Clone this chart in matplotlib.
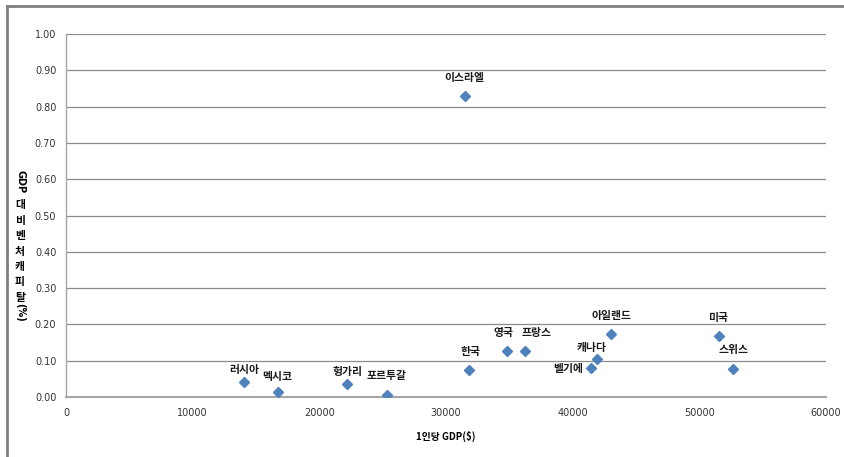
import matplotlib
matplotlib.use("Agg")
import matplotlib.pyplot as plt
from matplotlib.lines import Line2D

plt.rcParams['font.family'] = ['Noto Sans CJK KR', 'DejaVu Sans']

# Per-capita GDP (USD) vs. venture capital investment as share of GDP (%)
countries = ['러시아', '멕시코', '헝가리', '포르투갈', '이스라엘', '한국', '영국',
             '프랑스', '벨기에', '캐나다', '아일랜드', '미국', '스위스']
gdp_per_capita = [14030, 16760, 22160, 25320, 31500, 31820, 34790,
                  36240, 41450, 41920, 43030, 51550, 52620]
vc_share = [0.042, 0.015, 0.036, 0.006, 0.83, 0.074, 0.127,
            0.127, 0.080, 0.105, 0.174, 0.168, 0.077]
x_ticks = [0, 10000, 20000, 30000, 40000, 50000, 60000]
y_ticks = [0.0, 0.1, 0.2, 0.3, 0.4, 0.5, 0.6, 0.7, 0.8, 0.9, 1.0]

# data label placement relative to each marker, in pixels (dx right, dy up)
label_offsets = {
    '러시아': (1, 12), '멕시코': (-1, 15), '헝가리': (1, 12), '포르투갈': (0, 19),
    '이스라엘': (-1, 18), '한국': (1, 18), '영국': (-3, 18), '프랑스': (12, 18),
    '벨기에': (-8, -1), '캐나다': (-5, 11), '아일랜드': (0, 18), '미국': (-1, 18),
    '스위스': (1, 19),
}

W, H = 844, 457
fig = plt.figure(figsize=(W / 100, H / 100), dpi=100)
fig.patch.set_facecolor('white')

# chart frame (top and left edges)
fig.add_artist(Line2D([7 / W, 7 / W], [0, 1 - 6 / H], color='#7f7f7f', lw=2.0,
                      transform=fig.transFigure))
fig.add_artist(Line2D([7 / W, 1], [1 - 6 / H, 1 - 6 / H], color='#7f7f7f', lw=2.0,
                      transform=fig.transFigure))

left, right, top, bottom = 66, 826, 34, 397
ax = fig.add_axes([left / W, 1 - bottom / H, (right - left) / W, (bottom - top) / H])
ax.set_xlim(0, 60000)
ax.set_ylim(0, 1.0)
ax.set_xticks(x_ticks)
ax.set_yticks(y_ticks)
ax.set_xticklabels([str(v) for v in x_ticks], fontsize=7, color='#333333',
                   family=['DejaVu Sans'])
ax.set_yticklabels([f'{v:.2f}' for v in y_ticks], fontsize=7, color='#333333',
                   family=['DejaVu Sans'])
ax.tick_params(axis='both', length=0)
ax.tick_params(axis='x', pad=8)
ax.tick_params(axis='y', pad=7)

ax.grid(axis='y', color='#8c8c8c', lw=0.9)
ax.set_axisbelow(True)
for side in ['top', 'right']:
    ax.spines[side].set_visible(False)
ax.spines['left'].set_color('#a6a6a6')
ax.spines['bottom'].set_color('#a6a6a6')
ax.spines['left'].set_linewidth(1.0)
ax.spines['bottom'].set_linewidth(1.5)

ax.plot(gdp_per_capita, vc_share, linestyle='none', marker='D', markersize=5.5,
        color='#4f81bd', markeredgecolor='#4f81bd', zorder=3)

for name, gx, vy in zip(countries, gdp_per_capita, vc_share):
    dx, dy = label_offsets[name]
    ha = 'right' if dx < -6 and dy <= 0 else 'center'
    ax.annotate(name, (gx, vy), xytext=(dx * 0.72, dy * 0.72),
                textcoords='offset points', ha=ha, va='center',
                fontsize=7.8, fontweight='bold', color='#1a1a1a')

# axis titles
fig.text(446 / W, 1 - 436 / H, '1인당 GDP($)', ha='center', va='center',
         fontsize=7, fontweight='bold')

ylabel_x = 20 / W
fig.text(ylabel_x, 1 - 182 / H, 'GDP', rotation=-90, ha='center', va='center',
         fontsize=7, fontweight='bold', family=['DejaVu Sans'])
for i, ch in enumerate('대비벤처캐피탈'):
    fig.text(ylabel_x, 1 - (205 + i * 15.5) / H, ch, ha='center', va='center',
             fontsize=7.8, fontweight='bold')
fig.text(ylabel_x, 1 - 312 / H, '(%)', rotation=-90, ha='center', va='center',
         fontsize=7, fontweight='bold', family=['DejaVu Sans'])

fig.savefig('out.png', dpi=100, facecolor='white')
